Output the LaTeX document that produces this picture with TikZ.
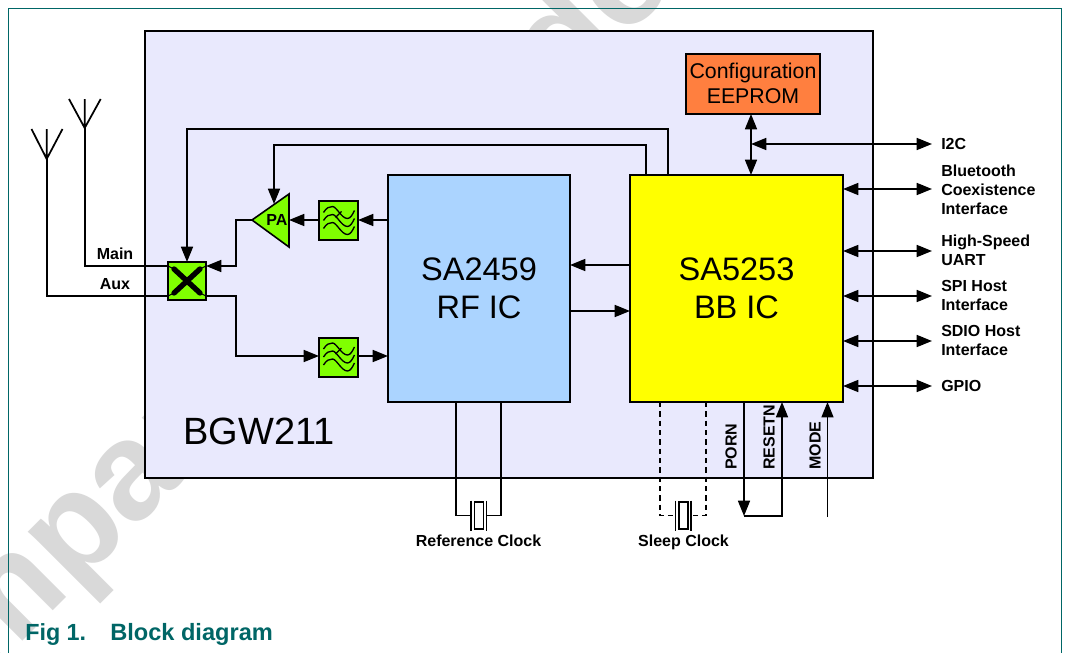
\documentclass[tikz,border=0pt]{standalone}
\usepackage{fontspec}
\setmainfont{Liberation Sans}
\usetikzlibrary{arrows.meta,calc}
\definecolor{teal1}{HTML}{006666}
\definecolor{wm}{HTML}{D9D9D9}
\definecolor{lav}{HTML}{E9E9FD}
\definecolor{grn}{HTML}{80FF00}
\definecolor{rfblue}{HTML}{ABD4FF}
\definecolor{orng}{HTML}{FF7F3F}
\definecolor{yel}{rgb}{1,1,0}
\tikzset{
 x=0.75pt,y=-0.75pt,
 line/.style={draw=black,line width=1.3pt,line join=miter},
 ar/.style={line,-{Triangle[length=11.5pt,width=9pt]}},
 biar/.style={line,{Triangle[length=11.5pt,width=9pt]}-{Triangle[length=11.5pt,width=9pt]}},
 dash1/.style={line,dash pattern=on 4pt off 3pt},
 block/.style={draw=black,line width=1.4pt,inner sep=0pt,outer sep=0pt,anchor=north west,align=center},
 big/.style={font=\fontsize{24.4}{28.5}\selectfont},
 lab/.style={font=\bfseries\fontsize{12}{14.2}\selectfont,inner sep=0pt,align=left,anchor=west},
 labc/.style={font=\bfseries\fontsize{12}{14.2}\selectfont,inner sep=0pt},
 labb/.style={font=\bfseries\fontsize{12}{14.2}\selectfont,inner sep=0pt,anchor=base},
 rlab/.style={font=\bfseries\fontsize{12}{12}\selectfont,inner sep=0pt,rotate=90,anchor=west},
 plate/.style={draw=black,line width=1pt},
}
\newcommand{\wave}[2]{%
 \begin{scope}[shift={(#1,#2)}]
 \foreach \dy in {-8,0,8}{
  \draw[black,line width=1pt] (-15,\dy) .. controls (-12,\dy-5) and (-9,\dy-6) .. (-6,\dy-6) .. controls (-2,\dy-6) and (3,\dy+6) .. (9,\dy+6) .. controls (12,\dy+6) and (14,\dy+2) .. (16,\dy-2);
 }
 \draw[black,line width=1pt] (-3,-3) -- (3,-9);
 \end{scope}
}
\begin{document}
\begin{tikzpicture}
\useasboundingbox (0,0) rectangle (1065,653);
\fill[white] (0,0) rectangle (1065,653);
\begin{scope}
\clip (0,0) rectangle (1065,653);
\node[wm,rotate=45,inner sep=0pt,anchor=base west,font=\bfseries\fontsize{104}{104}\selectfont] (wmk) at (-145,809) {Company confidential};
\end{scope}
\draw[teal1,line width=0.8pt] (8.5,653) -- (8.5,8.5) -- (1061.5,8.5) -- (1061.5,653);
\node[block,fill=lav,line width=1.5pt,minimum width=728*0.75pt,minimum height=447*0.75pt] (main) at (145,31) {};
\node[block,fill=orng,minimum width=134*0.75pt,minimum height=60*0.75pt,font=\fontsize{16}{18.7}\selectfont] (eeprom) at (686,54) {\raisebox{1pt}{Configuration}\\\raisebox{1pt}{EEPROM}};
\node[block,fill=rfblue,minimum width=182*0.75pt,minimum height=227*0.75pt,big] (rf) at (388,175) {\raisebox{1pt}{SA2459}\\\raisebox{1pt}{RF IC}};
\node[block,fill=yel,minimum width=213*0.75pt,minimum height=227*0.75pt,big] (bb) at (630,175) {\raisebox{1pt}{SA5253}\\\raisebox{1pt}{BB IC}};
\node[inner sep=0pt,anchor=west,font=\fontsize{28.5}{30}\selectfont] (bgw) at (183,431) {BGW211};
% filters and switch
\node[block,fill=grn,minimum width=39*0.75pt,minimum height=39*0.75pt] (f1) at (319,201) {};
\node[block,fill=grn,minimum width=39*0.75pt,minimum height=39*0.75pt] (f2) at (319,338) {};
\wave{338.5}{220.5}
\wave{338.5}{357}
\node[block,fill=grn,minimum width=38*0.75pt,minimum height=38*0.75pt] (sw) at (168,262) {};
\draw[line width=0.8pt] (168,266) -- (174,269) (200,269) -- (206,266) (168,296) -- (174,293) (200,293) -- (206,296);
\draw[line width=4pt,line cap=round] (174,269) -- (200,293) (200,269) -- (174,293);
% PA
\coordinate (patip) at (252,220);
\coordinate (patop) at (289,194);
\coordinate (pabot) at (289,247);
\draw[fill=grn,line width=1.2pt,draw=black] (patip) -- (patop) -- (pabot) -- cycle;
\node[inner sep=0pt,font=\bfseries\fontsize{12}{12}\selectfont] (pa) at (277,220) {PA};
% antennas
\coordinate (am) at (84.7,128); \coordinate (amt) at (84.7,99);
\coordinate (aml) at (69,99); \coordinate (amr) at (100.7,99);
\coordinate (aa) at (46.7,159); \coordinate (aat) at (46.7,129);
\coordinate (aal) at (31.5,129); \coordinate (aar) at (62.5,129);
\draw[line] (amt) -- (am) (aml) -- (am) -- (amr);
\draw[line] (aat) -- (aa) (aal) -- (aa) -- (aar);
\draw[line] (am) |- (sw.west |- 0,266);
\draw[line] (aa) |- (sw.west |- 0,296);
\node[labc] (mainl) at (115,253.5) {Main};
\node[labc] (auxl) at (115,284) {Aux};
% RF path
\draw[ar] (rf.west |- 0,220) -- (f1.east |- 0,220);
\draw[ar] (f1.west |- 0,220) -- (pabot |- 0,220);
\draw[ar] (patip) -- (236,220) -- (236,266) -- (sw.east |- 0,266);
\draw[ar] (sw.east |- 0,296) -- (236,296) -- (236,356) -- (f2.west |- 0,356);
\draw[ar] (f2.east |- 0,356) -- (rf.west |- 0,356);
% control
\draw[ar] (bb.north -| 668,0) -- (668,129) -- (187,129) -- (sw.north -| 187,0);
\draw[ar] (bb.north -| 646,0) -- (646,145) -- (274,145) -- (274,204);
\draw[ar] (bb.west |- 0,265) -- (rf.east |- 0,265);
\draw[ar] (rf.east |- 0,311) -- (bb.west |- 0,311);
% right side
\draw[biar] (eeprom.south -| 751,0) -- (bb.north -| 751,0);
\coordinate (i2c) at (932,144);
\draw[biar] (751,144) -- (i2c);
\foreach \yy/\nm in {189/bt,251/hs,296/spi,341/sdio,386/gpio}{
 \coordinate (\nm) at (932,\yy);
 \draw[biar] (bb.east |- \nm) -- (\nm);
}
\node[lab] (li2c) at (941,144) {I2C};
\node[lab] (lbt) at (941,189.5) {Bluetooth\\Coexistence\\Interface};
\node[lab] (lhs) at (941,250) {High-Speed\\UART};
\node[lab] (lspi) at (941,295.5) {SPI Host\\Interface};
\node[lab] (lsdio) at (941,340.5) {SDIO Host\\Interface};
\node[lab] (lgp) at (941,386) {GPIO};
% clocks
\node[draw=black,line width=1pt,minimum width=9*0.75pt,minimum height=27*0.75pt,inner sep=0pt,outer sep=0pt] (x1) at (478.7,515.5) {};
\node[draw=black,line width=1pt,minimum width=9*0.75pt,minimum height=27*0.75pt,inner sep=0pt,outer sep=0pt] (x2) at (683.5,515.5) {};
\coordinate (p1a) at (471,515.5); \coordinate (p1b) at (486.3,515.5);
\coordinate (p2a) at (675.7,515.5); \coordinate (p2b) at (691,515.5);
\foreach \pp in {p1a,p1b,p2a,p2b}{\draw[plate] ($(\pp)+(0,-15)$) -- ($(\pp)+(0,15)$);}
\draw[line] (rf.south -| 456,0) -- (456,515.5) -- (p1a);
\draw[line] (rf.south -| 501,0) -- (501,515.5) -- (p1b);
\draw[dash1] (bb.south -| 660,0) -- (660,515.5) -- (p2a);
\draw[dash1] (bb.south -| 706,0) -- (706,515.5) -- (p2b);
\node[labb] (lref) at (478.5,546.5) {Reference Clock};
\node[labb] (lsl) at (683.5,546.5) {Sleep Clock};
% reset etc
\coordinate (pe) at (744,516); \coordinate (re) at (782,516); \coordinate (me) at (827.5,517);
\draw[ar] (bb.south -| pe) -- (pe);
\draw[ar] (pe) -- (re) -- (bb.south -| re);
\draw[ar,line width=1pt] (me) -- (bb.south -| me);
\node[rlab] (lporn) at (731,470) {PORN};
\node[rlab] (lres) at (769,470) {RESETN};
\node[rlab] (lmode) at (815,470) {MODE};
% caption
\node[teal1,inner sep=0pt,anchor=base west,font=\bfseries\fontsize{17.5}{18}\selectfont] (cap1) at (25,640) {Fig 1.};
\node[teal1,inner sep=0pt,anchor=base west,font=\bfseries\fontsize{17.7}{18}\selectfont] (cap2) at (110,640) {Block diagram};
\end{tikzpicture}
\end{document}
